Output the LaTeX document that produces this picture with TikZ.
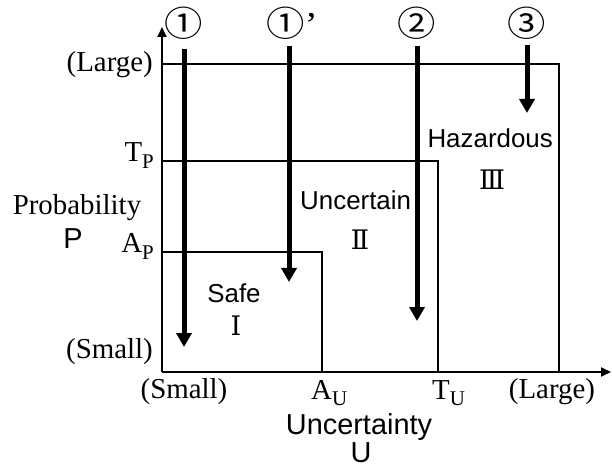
\documentclass[tikz,border=0pt]{standalone}
\usepackage{fontspec}
\setmainfont{Liberation Serif}
\setsansfont{Liberation Sans}
\newfontfamily\circfont{Noto Sans CJK JP}
\newfontfamily\romfont{DejaVu Serif}
\usetikzlibrary{arrows.meta, positioning}
\tikzset{
  axis/.style={draw, line width=2bp, -{Triangle[length=10bp, width=9bp]}},
  zone/.style={draw, line width=2.2bp},
  path arrow/.style={draw, line width=5bp, -{Triangle[length=14bp, width=15bp]}},
  tick label/.style={font=\fontsize{29}{29}\selectfont, inner sep=0pt},
  axis title/.style={font=\fontsize{29}{29}\sffamily, inner sep=0pt},
  zone label/.style={font=\fontsize{26}{26}\sffamily, inner sep=0pt},
  zone number/.style={font=\fontsize{27}{27}\romfont, inner sep=0pt},
  case label/.style={font=\fontsize{35}{35}\circfont, inner sep=0pt},
}
\newcommand{\lvl}[2]{#1\raisebox{-0.22em}{\fontsize{21}{21}\selectfont #2}}

\begin{document}
\begin{tikzpicture}[x=1bp, y=-1bp]
  \useasboundingbox (0,0) rectangle (612,467);

  % axes
  \coordinate (origin) at (162,372);
  \coordinate (ytop)   at (162,27);
  \coordinate (xend)   at (611,372);
  \draw[axis] (origin) -- (ytop);
  \draw[axis] (origin) -- (xend);

  % zone borders
  \draw[zone] (origin |- 0,64)  -- (559,64)  -- (559,372);
  \draw[zone] (origin |- 0,161) -- (438,161) -- (438,372);
  \draw[zone] (origin |- 0,252) -- (322,252) -- (322,372);

  % probability ticks
  \node[tick label, anchor=base east] (pLarge) at (153,72)  {(Large)};
  \node[tick label, anchor=base east] (pT)     at (154,162) {\lvl{T}{P}};
  \node[tick label, anchor=base east] (pA)     at (154,253) {\lvl{A}{P}};
  \node[tick label, anchor=base east] (pSmall) at (153,358) {(Small)};
  \node[tick label, anchor=base] (pTitle) at (77,215) {Probability};
  \node[axis title, anchor=base] (pSym) at (73,249) {P};

  % uncertainty ticks
  \node[tick label, anchor=base] (uSmall) at (184,398) {(Small)};
  \node[tick label, anchor=base west] (uA) at (311,399) {\lvl{A}{U}};
  \node[tick label, anchor=base west] (uT) at (432,399) {\lvl{T}{U}};
  \node[tick label, anchor=base] (uLarge) at (552,398) {(Large)};
  \node[axis title, anchor=base] (uTitle) at (359,434) {Uncertainty};
  \node[axis title, anchor=base] (uSym) at (361,462) {U};

  % zones
  \node[zone label, anchor=base] (safe) at (234,303) {Safe};
  \node[zone number, anchor=base] (safeNo) at (236,335) {Ⅰ};
  \node[zone label, anchor=base west] (unc) at (300,210) {Uncertain};
  \node[zone number, anchor=base] (uncNo) at (360,250) {Ⅱ};
  \node[zone label, anchor=base east] (haz) at (553,148) {Hazardous};
  \node[zone number, anchor=base] (hazNo) at (492,190) {Ⅲ};

  % cases
  \coordinate (e1) at (184,347);
  \coordinate (e2) at (289,282);
  \coordinate (e3) at (417,321);
  \coordinate (e4) at (527,113);
  \node[case label, xscale=1.1] (c1) at (184,23) {①};
  \node[case label, xscale=1.1] (c2) at (292,23) {①\rmfamily’};
  \node[case label, xscale=1.1] (c3) at (417,23) {②};
  \node[case label, xscale=1.1] (c4) at (527,23) {③};
  \draw[path arrow, shorten <=10bp] (c1.south -| e1) -- (e1);
  \draw[path arrow, shorten <=7bp] (c2.south -| e2) -- (e2);
  \draw[path arrow, shorten <=7bp] (c3.south -| e3) -- (e3);
  \draw[path arrow, shorten <=6bp] (c4.south -| e4) -- (e4);
\end{tikzpicture}
\end{document}
